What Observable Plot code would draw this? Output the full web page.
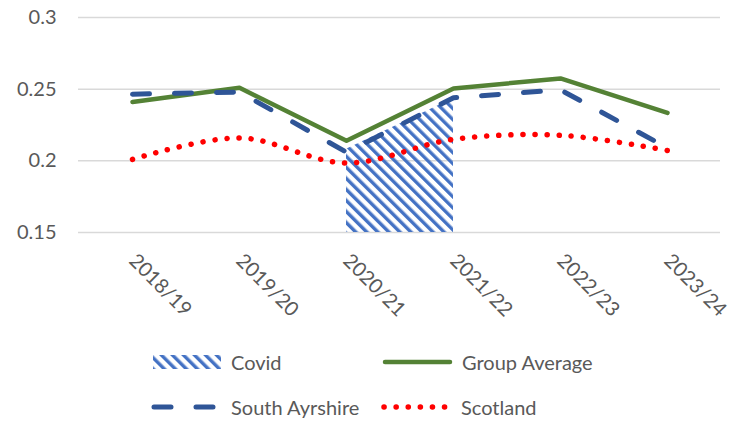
<!DOCTYPE html>
<html>
<head>
<meta charset="utf-8">
<script src="https://cdn.jsdelivr.net/npm/d3@7"></script>
<script src="https://cdn.jsdelivr.net/npm/@observablehq/plot@0.6"></script>
<style>
  html, body { margin: 0; padding: 0; background: #fff; }
  body { width: 734px; height: 422px; overflow: hidden; font-family: Lato, "Open Sans", sans-serif; }
  #legend { position: relative; height: 82px; color: #595959; font-size: 20px; }
  .item { position: absolute; display: flex; align-items: center; height: 26px; }
  .item svg { margin-right: 8px; }
</style>
</head>
<body>
<div id="chart"></div>
<div id="legend"></div>
<script>
const years = ["2018/19", "2019/20", "2020/21", "2021/22", "2022/23", "2023/24"];
const groupAverage = [0.241, 0.251, 0.214, 0.2505, 0.2575, 0.2335];
const southAyrshire = [0.2465, 0.248, 0.206, 0.244, 0.2495, 0.209];
const scotland = [0.201, 0.216, 0.1985, 0.215, 0.2178, 0.2072];
const covidYears = ["2020/21", "2021/22"];
const covidValues = [0.208, 0.2435];
const yTicks = [0.15, 0.2, 0.25, 0.3];
const yMin = 0.15, yMax = 0.3;

const rows = years.map((y, i) => ({year: y, ga: groupAverage[i], sa: southAyrshire[i], sc: scotland[i]}));
const covid = covidYears.map((y, i) => ({year: y, v: covidValues[i]}));

const chart = Plot.plot({
  width: 734,
  height: 340,
  marginTop: 17,
  marginBottom: 108,
  marginLeft: 78,
  marginRight: 14,
  style: {fontFamily: "Lato, 'Open Sans', sans-serif", fontSize: "20px", color: "#595959", background: "#fff"},
  x: {type: "point", domain: years, padding: 0.5, label: null},
  y: {domain: [yMin, yMax], ticks: yTicks, label: null},
  marks: [
    Plot.gridY(yTicks, {stroke: "#d9d9d9", strokeOpacity: 1, strokeWidth: 1.5}),
    Plot.areaY(covid, {x: "year", y1: () => yMin, y2: "v", fill: "url(#hatch)"}),
    Plot.axisY(yTicks, {tickSize: 0, tickPadding: 22, fill: "#595959", fontSize: 20, tickFormat: d => String(d)}),
    Plot.axisX({tickSize: 0, tickRotate: 45, tickPadding: 12, dy: 13, fill: "#595959", fontSize: 20}),
    Plot.lineY(rows, {x: "year", y: "ga", stroke: "#548235", strokeWidth: 4.5, strokeLinejoin: "round"}),
    Plot.lineY(rows, {x: "year", y: "sa", stroke: "#2F5597", strokeWidth: 5, strokeDasharray: "17 25", strokeLinecap: "round"}),
    Plot.lineY(rows, {x: "year", y: "sc", stroke: "#FF0000", strokeWidth: 5.5, strokeDasharray: "0.1 12", strokeLinecap: "round", curve: "catmull-rom"})
  ]
});

const ns = "http://www.w3.org/2000/svg";
function addHatch(svg, id) {
  const defs = document.createElementNS(ns, "defs");
  const pat = document.createElementNS(ns, "pattern");
  pat.setAttribute("id", id);
  pat.setAttribute("patternUnits", "userSpaceOnUse");
  pat.setAttribute("width", "7.8");
  pat.setAttribute("height", "8");
  pat.setAttribute("patternTransform", "rotate(-45)");
  const r = document.createElementNS(ns, "rect");
  r.setAttribute("x", "0"); r.setAttribute("y", "0");
  r.setAttribute("width", "3.4"); r.setAttribute("height", "8");
  r.setAttribute("fill", "#4472C4");
  pat.appendChild(r);
  defs.appendChild(pat);
  svg.insertBefore(defs, svg.firstChild);
}
addHatch(chart, "hatch");
document.getElementById("chart").appendChild(chart);

// legend
const legend = document.getElementById("legend");
const items = [
  {label: "Covid", x: 153, y: 9, kind: "hatch"},
  {label: "Group Average", x: 382, y: 9, kind: "line", stroke: "#548235", w: 4.5, dash: null},
  {label: "South Ayrshire", x: 151, y: 54, kind: "line", stroke: "#2F5597", w: 5, dash: "17 25"},
  {label: "Scotland", x: 381, y: 54, kind: "line", stroke: "#FF0000", w: 5.5, dash: "0.1 12"}
];
items.forEach((it, i) => {
  const div = document.createElement("div");
  div.className = "item";
  div.style.left = it.x + "px";
  div.style.top = it.y + "px";
  const s = document.createElementNS(ns, "svg");
  s.setAttribute("width", it.kind === "hatch" ? 70 : 72);
  s.setAttribute("height", 26);
  if (it.kind === "hatch") {
    addHatch(s, "hatchL" + i);
    const r = document.createElementNS(ns, "rect");
    r.setAttribute("x", 0); r.setAttribute("y", 6);
    r.setAttribute("width", 68); r.setAttribute("height", 14);
    r.setAttribute("fill", "url(#hatchL" + i + ")");
    s.appendChild(r);
  } else {
    const l = document.createElementNS(ns, "line");
    l.setAttribute("x1", 3); l.setAttribute("x2", 68);
    l.setAttribute("y1", 13); l.setAttribute("y2", 13);
    l.setAttribute("stroke", it.stroke);
    l.setAttribute("stroke-width", it.w);
    l.setAttribute("stroke-linecap", "round");
    if (it.dash) l.setAttribute("stroke-dasharray", it.dash);
    s.appendChild(l);
  }
  div.appendChild(s);
  const t = document.createElement("span");
  t.textContent = it.label;
  div.appendChild(t);
  legend.appendChild(div);
});
</script>
</body>
</html>
